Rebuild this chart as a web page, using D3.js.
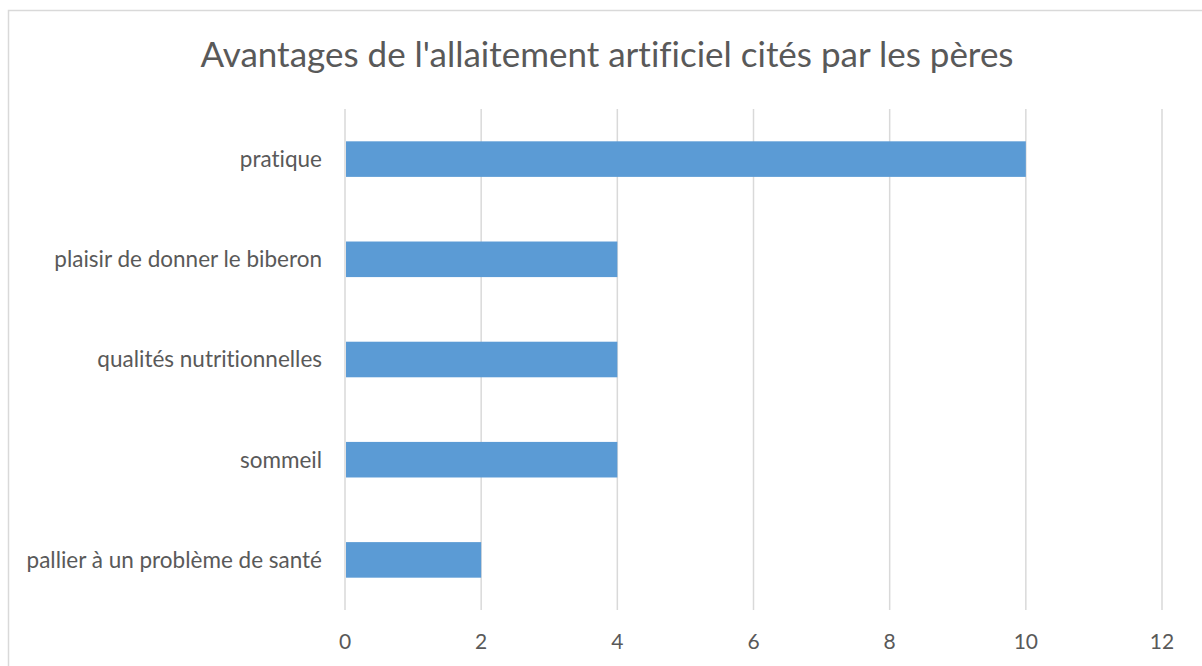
<!DOCTYPE html>
<html lang="fr">
<head>
<meta charset="UTF-8">
<title>Avantages de l'allaitement artificiel</title>
<script src="https://d3js.org/d3.v7.min.js"></script>
<style>
    body { margin: 0; background: #fff; }
    text { font-family: Lato, "Open Sans", sans-serif; fill: #595959; font-variant-ligatures: none; }
</style>
</head>
<body>
<svg id="chart" width="1202" height="666"></svg>
<script>
    const categories = ["pratique", "plaisir de donner le biberon", "qualités nutritionnelles", "sommeil", "pallier à un problème de santé"];
    const values = [10, 4, 4, 4, 2];
    const xTicks = [0, 2, 4, 6, 8, 10, 12];
    const title = "Avantages de l'allaitement artificiel cités par les pères";

    const svg = d3.select("#chart");
    const margin = { top: 109, right: 40, bottom: 56, left: 345 };
    const width = 1162 - margin.left;
    const height = 610 - margin.top;

    // chart frame (runs past the right and bottom edge like the source)
    svg.append("rect")
        .attr("x", 8.5).attr("y", 10.5)
        .attr("width", 1300).attr("height", 800)
        .attr("fill", "none").attr("stroke", "#d9d9d9").attr("stroke-width", 1.5);

    svg.append("text")
        .attr("x", 607).attr("y", 67)
        .attr("text-anchor", "middle")
        .style("font-size", "35px")
        .text(title);

    const g = svg.append("g").attr("transform", `translate(${margin.left},${margin.top})`);

    const x = d3.scaleLinear().domain([0, 12]).range([0, width]);
    const y = d3.scaleBand().domain(categories).range([0, height]).paddingInner(0.645).paddingOuter(0.3225);

    // gridlines
    g.selectAll(".grid").data(xTicks).join("line")
        .attr("x1", d => x(d)).attr("x2", d => x(d))
        .attr("y1", 0).attr("y2", height)
        .attr("stroke", "#d9d9d9").attr("stroke-width", 1.5);

    g.selectAll(".bar").data(values).join("rect")
        .attr("x", x(0) + 1)
        .attr("y", (d, i) => y(categories[i]))
        .attr("width", d => x(d) - x(0) - 1)
        .attr("height", y.bandwidth())
        .attr("fill", "#5b9bd5");

    // x tick labels
    g.selectAll(".xt").data(xTicks).join("text")
        .attr("x", d => x(d)).attr("y", height + 39)
        .attr("text-anchor", "middle")
        .style("font-size", "21px")
        .text(d => d);

    // category labels
    g.selectAll(".yl").data(categories).join("text")
        .attr("x", -23)
        .attr("y", d => y(d) + y.bandwidth() / 2)
        .attr("dy", "0.35em")
        .attr("text-anchor", "end")
        .style("font-size", "22.5px")
        .text(d => d);
</script>
</body>
</html>
